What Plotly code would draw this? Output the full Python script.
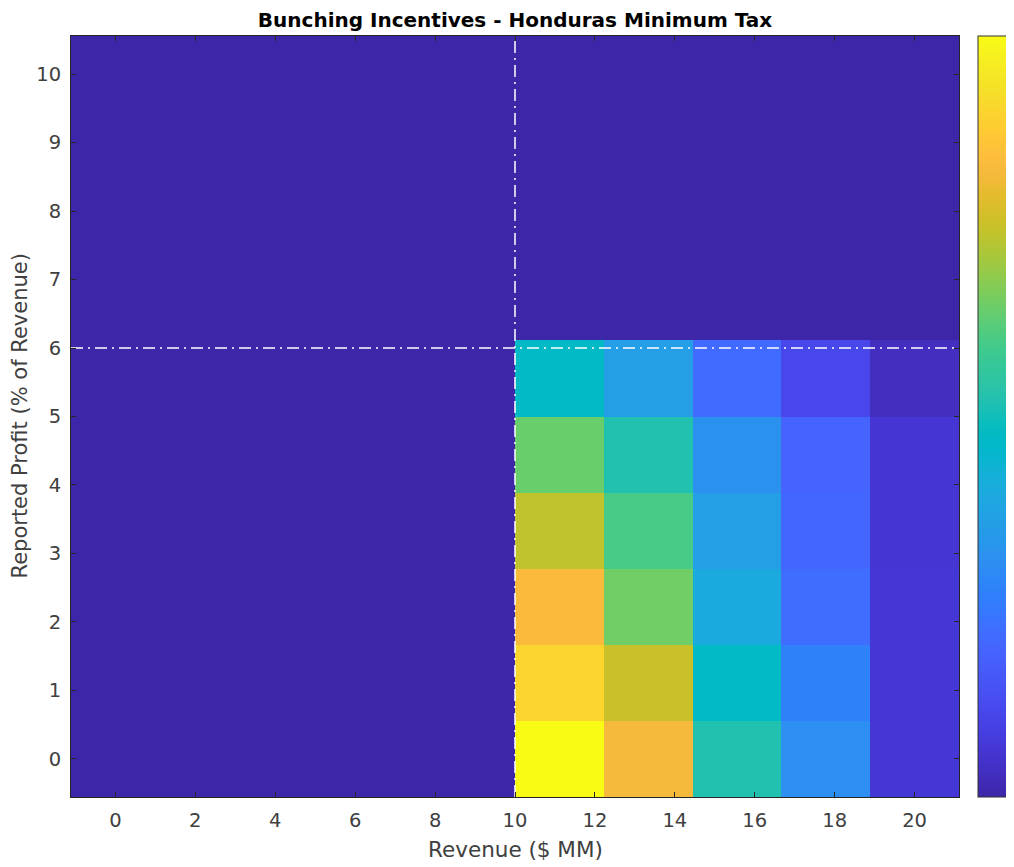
import numpy as np
import plotly.graph_objects as go

# ---- data ----
revenue = [round(v, 4) for v in np.linspace(0, 20, 10)]       # $ MM (cell centres)
profit = [round(v, 4) for v in np.linspace(0, 10, 10)]        # % of revenue (cell centres)

# incentive values (rows = profit, bottom to top; cols = revenue, left to right)
incentive = [
    [0, 0, 0, 0, 0, 1.00, 0.82, 0.52, 0.31, 0.065],
    [0, 0, 0, 0, 0, 0.90, 0.75, 0.47, 0.27, 0.065],
    [0, 0, 0, 0, 0, 0.83, 0.65, 0.40, 0.22, 0.065],
    [0, 0, 0, 0, 0, 0.74, 0.60, 0.36, 0.20, 0.06],
    [0, 0, 0, 0, 0, 0.64, 0.52, 0.32, 0.19, 0.06],
    [0, 0, 0, 0, 0, 0.47, 0.36, 0.21, 0.11, 0.03],
    [0, 0, 0, 0, 0, 0, 0, 0, 0, 0],
    [0, 0, 0, 0, 0, 0, 0, 0, 0, 0],
    [0, 0, 0, 0, 0, 0, 0, 0, 0, 0],
    [0, 0, 0, 0, 0, 0, 0, 0, 0, 0],
]

revenue_threshold = 10
profit_threshold = 6

x_ticks = [0, 2, 4, 6, 8, 10, 12, 14, 16, 18, 20]
y_ticks = [0, 1, 2, 3, 4, 5, 6, 7, 8, 9, 10]

title_text = "Bunching Incentives - Honduras Minimum Tax"
x_title = "Revenue ($ MM)"
y_title = "Reported Profit (% of Revenue)"

# MATLAB parula colormap (64 entries)
parula = [
    [0.2422, 0.1504, 0.6603], [0.2504, 0.1650, 0.7076], [0.2578, 0.1818, 0.7511], [0.2647, 0.1978, 0.7952],
    [0.2706, 0.2147, 0.8364], [0.2751, 0.2342, 0.8710], [0.2783, 0.2559, 0.8991], [0.2803, 0.2782, 0.9221],
    [0.2813, 0.3006, 0.9414], [0.2810, 0.3228, 0.9579], [0.2795, 0.3447, 0.9717], [0.2760, 0.3667, 0.9829],
    [0.2699, 0.3892, 0.9906], [0.2602, 0.4123, 0.9952], [0.2440, 0.4358, 0.9988], [0.2206, 0.4603, 0.9973],
    [0.1963, 0.4847, 0.9892], [0.1834, 0.5074, 0.9798], [0.1786, 0.5289, 0.9682], [0.1764, 0.5499, 0.9520],
    [0.1687, 0.5703, 0.9359], [0.1540, 0.5902, 0.9218], [0.1460, 0.6091, 0.9079], [0.1380, 0.6276, 0.8973],
    [0.1248, 0.6459, 0.8883], [0.1113, 0.6635, 0.8763], [0.0952, 0.6798, 0.8598], [0.0689, 0.6948, 0.8394],
    [0.0297, 0.7082, 0.8163], [0.0036, 0.7203, 0.7917], [0.0067, 0.7312, 0.7660], [0.0433, 0.7411, 0.7394],
    [0.0964, 0.7500, 0.7120], [0.1408, 0.7584, 0.6842], [0.1717, 0.7670, 0.6554], [0.1938, 0.7758, 0.6251],
    [0.2161, 0.7843, 0.5923], [0.2470, 0.7918, 0.5567], [0.2906, 0.7973, 0.5188], [0.3406, 0.8008, 0.4789],
    [0.3909, 0.8029, 0.4354], [0.4456, 0.8024, 0.3909], [0.5044, 0.7993, 0.3480], [0.5616, 0.7942, 0.3045],
    [0.6174, 0.7876, 0.2612], [0.6720, 0.7793, 0.2227], [0.7242, 0.7698, 0.1910], [0.7738, 0.7598, 0.1646],
    [0.8203, 0.7498, 0.1535], [0.8634, 0.7406, 0.1596], [0.9035, 0.7330, 0.1774], [0.9393, 0.7288, 0.2100],
    [0.9728, 0.7298, 0.2394], [0.9956, 0.7434, 0.2371], [0.9970, 0.7659, 0.2199], [0.9952, 0.7893, 0.2028],
    [0.9892, 0.8136, 0.1885], [0.9786, 0.8386, 0.1766], [0.9676, 0.8639, 0.1643], [0.9610, 0.8890, 0.1537],
    [0.9597, 0.9135, 0.1423], [0.9628, 0.9373, 0.1265], [0.9691, 0.9606, 0.1064], [0.9769, 0.9839, 0.0805],
]
colorscale = [
    [i / (len(parula) - 1), "rgb(%d,%d,%d)" % tuple(round(c * 255) for c in rgb)]
    for i, rgb in enumerate(parula)
]

dx = (revenue[1] - revenue[0]) / 2
dy = (profit[1] - profit[0]) / 2
x_range = [revenue[0] - dx, revenue[-1] + dx]
y_range = [profit[0] - dy, profit[-1] + dy]

FONT = "DejaVu Sans, Verdana, sans-serif"
TXT = "#404040"
DASH = "12px,5px,2px,5px"

fig = go.Figure()
fig.add_trace(go.Heatmap(
    x=revenue, y=profit, z=incentive,
    colorscale=colorscale, zmin=0, zmax=1,
    colorbar=dict(
        thickness=32, thicknessmode="pixels",
        len=1, lenmode="fraction", y=0.5, yanchor="middle",
        x=1.0214, xanchor="left", xpad=0, ypad=0,
        showticklabels=False, ticks="",
        outlinecolor="#333333", outlinewidth=1,
    ),
    hoverongaps=False,
))

# threshold reference lines
fig.add_trace(go.Scatter(
    x=[revenue_threshold, revenue_threshold], y=y_range, mode="lines",
    line=dict(color="white", width=1.5, dash=DASH), showlegend=False, hoverinfo="skip",
))
fig.add_trace(go.Scatter(
    x=x_range, y=[profit_threshold, profit_threshold], mode="lines",
    line=dict(color="white", width=1.5, dash=DASH), showlegend=False, hoverinfo="skip",
))

axis_common = dict(
    showgrid=False, zeroline=False, automargin=False,
    showline=True, linecolor="#262626", linewidth=1, mirror="allticks",
    ticks="inside", ticklen=5, tickwidth=1, tickcolor="#262626",
    tickfont=dict(family=FONT, size=19.5, color=TXT),
)

fig.update_layout(
    width=1030, height=867, autosize=False,
    margin=dict(l=63, r=79, t=28, b=78),
    paper_bgcolor="white", plot_bgcolor="white",
    showlegend=False,
    title=dict(
        text="<b>" + title_text + "</b>", automargin=False,
        x=0.5, xref="paper", xanchor="center",
        y=1 - 12 / 867, yref="container", yanchor="middle",
        font=dict(family=FONT, size=20, color="#000000"),
    ),
    xaxis=dict(
        range=x_range, tickvals=x_ticks, ticktext=[str(v) for v in x_ticks],
        ticklabelstandoff=6,
        **axis_common,
    ),
    yaxis=dict(
        range=y_range, tickvals=y_ticks, ticktext=[str(v) for v in y_ticks],
        ticklabelstandoff=5,
        **axis_common,
    ),
    annotations=[
        dict(text=x_title, xref="paper", yref="paper", x=0.5, y=0,
             xanchor="center", yanchor="middle", yshift=-52, showarrow=False,
             font=dict(family=FONT, size=21.5, color=TXT)),
        dict(text=y_title, xref="paper", yref="paper", x=0, y=0.5, textangle=-90,
             xanchor="center", yanchor="middle", xshift=-52, showarrow=False,
             font=dict(family=FONT, size=21, color=TXT)),
    ],
)

fig.write_html("out.html")
